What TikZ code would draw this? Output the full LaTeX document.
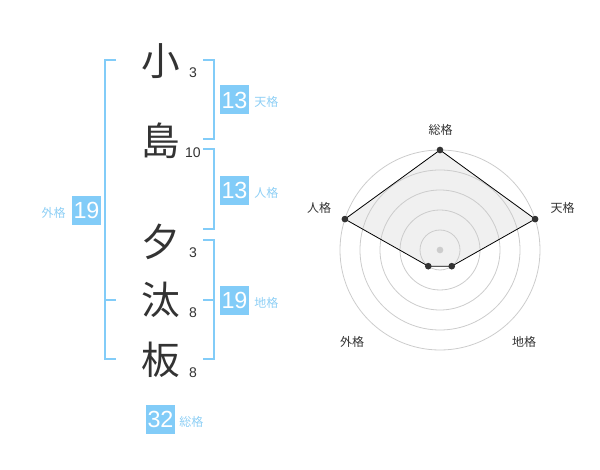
\documentclass[tikz,border=0pt]{standalone}
\usepackage{fontspec}
\usetikzlibrary{calc}
\setmainfont{Liberation Sans}
\newfontfamily\cjk{Noto Sans CJK JP}
\definecolor{kblue}{HTML}{82CCF8}
\definecolor{klabel}{HTML}{8ECFF5}
\definecolor{kdark}{HTML}{333333}
\definecolor{kgrid}{HTML}{CCCCCC}
\definecolor{kfill}{HTML}{F0F0F0}
\tikzset{
  kanji/.style={text=kdark,font=\cjk\fontsize{29pt}{29pt}\selectfont,inner sep=0pt},
  strokes/.style={text=kdark,font=\fontsize{10.5pt}{10.5pt}\selectfont,inner sep=0pt},
  numbox/.style={fill=kblue,text=white,minimum width=21.75pt,minimum height=21.75pt,inner sep=0pt,font=\fontsize{17.5pt}{17.5pt}\selectfont},
  kaku/.style={text=klabel,font=\cjk\fontsize{9pt}{9pt}\selectfont,inner sep=0pt},
  brk/.style={draw=kblue,line width=1.5pt},
  grid/.style={draw=kgrid,line width=0.6pt},
  rlabel/.style={text=kdark,font=\cjk\fontsize{9pt}{9pt}\selectfont,inner sep=0pt},
  dot/.style={circle,fill=kdark,minimum size=5pt,inner sep=0pt},
}
\begin{document}
\begin{tikzpicture}[x=0.75pt,y=-0.75pt]
\useasboundingbox (0,0) rectangle (600,470);
% characters
\node[kanji] (c1) at (161,61) {小};
\node[kanji] (c2) at (161,141) {島};
\node[kanji] (c3) at (161,242) {夕};
\node[kanji] (c4) at (161,300) {汰};
\node[kanji] (c5) at (161,360) {板};
\node[strokes] (s1) at (193,73) {3};
\node[strokes] (s2) at (193,153) {10};
\node[strokes] (s3) at (193,253) {3};
\node[strokes] (s4) at (193,313) {8};
\node[strokes] (s5) at (193,373) {8};
% brackets
\coordinate (L1) at (116,60); \coordinate (L2) at (105,60);
\coordinate (L3) at (105,359); \coordinate (L4) at (116,359);
\coordinate (LM1) at (105,300); \coordinate (LM2) at (116,300);
\draw[brk] (L1) -- (L2) -- (L3) -- (L4);
\draw[brk] (LM1) -- (LM2);
\coordinate (T1) at (203,60); \coordinate (T2) at (214,60);
\coordinate (T3) at (214,139); \coordinate (T4) at (203,139);
\draw[brk] (T1) -- (T2) -- (T3) -- (T4);
\coordinate (J1) at (203,149); \coordinate (J2) at (214,149);
\coordinate (J3) at (214,229); \coordinate (J4) at (203,229);
\draw[brk] (J1) -- (J2) -- (J3) -- (J4);
\coordinate (C1) at (203,240); \coordinate (C2) at (214,240);
\coordinate (C3) at (214,359); \coordinate (C4) at (203,359);
\coordinate (CM1) at (203,300); \coordinate (CM2) at (214,300);
\draw[brk] (C1) -- (C2) -- (C3) -- (C4);
\draw[brk] (CM1) -- (CM2);
% number boxes
\node[numbox] (b1) at (234.5,100) {13};
\node[kaku,anchor=west] (k1) at (254,102) {天格};
\node[numbox] (b2) at (234.5,190.5) {13};
\node[kaku,anchor=west] (k2) at (254,193) {人格};
\node[numbox] (b3) at (234.5,300.5) {19};
\node[kaku,anchor=west] (k3) at (254,303) {地格};
\node[numbox] (b4) at (86.5,210.5) {19};
\node[kaku,anchor=east] (k4) at (66,213) {外格};
\node[numbox] (b5) at (160.5,419) {32};
\node[kaku,anchor=west] (k5) at (179,422) {総格};
% radar
\coordinate (O) at (440,250);
\coordinate (P1) at ($(O)+(0,-100)$);
\coordinate (P2) at ($(O)+(95.1,-30.9)$);
\coordinate (P3) at ($(O)+(11.76,16.18)$);
\coordinate (P4) at ($(O)+(-11.76,16.18)$);
\coordinate (P5) at ($(O)+(-95.1,-30.9)$);
\fill[kfill] (P1) -- (P2) -- (P3) -- (P4) -- (P5) -- cycle;
\foreach \r in {20,40,60,80,100} \draw[grid] (O) circle[radius=\r];
\draw[black,line width=0.6pt] (P1) -- (P2) -- (P3) -- (P4) -- (P5) -- cycle;
\node[circle,fill=kgrid,minimum size=5pt,inner sep=0pt] (ctr) at (O) {};
\node[dot] (d1) at (P1) {};
\node[dot] (d2) at (P2) {};
\node[dot] (d3) at (P3) {};
\node[dot] (d4) at (P4) {};
\node[dot] (d5) at (P5) {};
\node[rlabel] (r1) at (440.5,130) {総格};
\node[rlabel] (r2) at (562.5,208) {天格};
\node[rlabel] (r3) at (319,208) {人格};
\node[rlabel] (r4) at (352,342) {外格};
\node[rlabel] (r5) at (524,342) {地格};
\end{tikzpicture}
\end{document}
